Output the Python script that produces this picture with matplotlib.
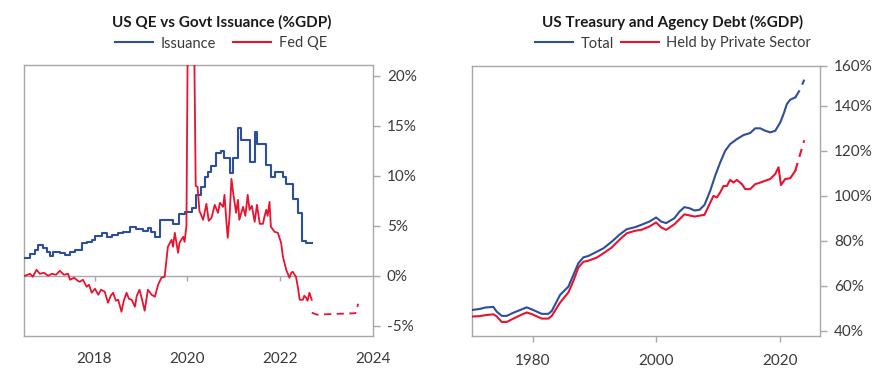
import matplotlib
matplotlib.use("Agg")
import matplotlib.pyplot as plt
from matplotlib.lines import Line2D

plt.rcParams['font.family'] = ['Lato', 'DejaVu Sans']

# ---------------- Left chart data ----------------
iss_x = [2016.50, 2016.61, 2016.72, 2016.78, 2016.89, 2016.97, 2017.04, 2017.10, 2017.25, 2017.36,
         2017.47, 2017.58, 2017.72, 2017.83, 2017.94, 2018.01, 2018.15, 2018.26, 2018.37, 2018.50,
         2018.61, 2018.76, 2018.90, 2019.04, 2019.15, 2019.22, 2019.30, 2019.40, 2019.68, 2019.83,
         2019.94, 2020.09, 2020.19, 2020.30, 2020.37, 2020.44, 2020.52, 2020.62, 2020.73, 2020.80,
         2020.91, 2020.98, 2021.09, 2021.16, 2021.34, 2021.45, 2021.51, 2021.70, 2021.81, 2021.88,
         2022.06, 2022.13, 2022.27, 2022.38, 2022.47, 2022.56, 2022.68]
iss_y = [1.8, 2.2, 2.6, 3.1, 2.8, 2.4, 2.0, 2.4, 2.3, 2.1,
         2.4, 2.6, 3.3, 3.4, 3.6, 4.0, 4.3, 3.9, 4.1, 4.3,
         4.4, 4.9, 4.7, 4.5, 4.8, 4.4, 3.9, 5.6, 5.2, 6.2,
         6.4, 6.8, 8.1, 8.9, 9.9, 10.4, 11.0, 12.3, 12.5, 11.8,
         10.3, 11.8, 14.8, 13.6, 11.4, 14.4, 13.2, 11.1, 9.9, 10.4,
         9.9, 9.2, 7.7, 6.3, 3.5, 3.3, 3.3]

qe_x = [2016.50, 2016.61, 2016.67, 2016.75, 2016.82, 2016.91, 2017.00, 2017.08, 2017.17, 2017.25,
        2017.34, 2017.43, 2017.47, 2017.56, 2017.64, 2017.68, 2017.75, 2017.83, 2017.88, 2017.94,
        2018.01, 2018.08, 2018.14, 2018.22, 2018.29, 2018.35, 2018.40, 2018.46, 2018.51, 2018.58,
        2018.63, 2018.69, 2018.74, 2018.80, 2018.87, 2018.91, 2018.97, 2019.03, 2019.08, 2019.15,
        2019.23, 2019.30, 2019.37, 2019.44, 2019.51, 2019.55, 2019.58, 2019.66, 2019.69, 2019.73,
        2019.80, 2019.83, 2019.91, 2019.94, 2019.98, 2020.01, 2020.05, 2020.10, 2020.15, 2020.18,
        2020.22, 2020.26, 2020.34, 2020.41, 2020.46, 2020.52, 2020.59, 2020.66, 2020.70, 2020.77,
        2020.80, 2020.84, 2020.87, 2020.91, 2020.95, 2020.99, 2021.05, 2021.09, 2021.12, 2021.20,
        2021.25, 2021.30, 2021.34, 2021.39, 2021.45, 2021.50, 2021.56, 2021.63, 2021.66, 2021.70,
        2021.73, 2021.77, 2021.80, 2021.88, 2021.95, 2022.02, 2022.06, 2022.13, 2022.20, 2022.24,
        2022.27, 2022.34, 2022.38, 2022.42, 2022.49, 2022.52, 2022.56, 2022.59, 2022.63, 2022.68]
qe_y = [0.0, 0.2, -0.1, 0.6, 0.2, 0.3, 0.0, 0.2, 0.1, 0.5,
        0.1, 0.2, -0.4, -0.2, -0.5, -0.6, -0.4, -1.1, -0.9, -1.7,
        -1.3, -1.9, -1.4, -1.6, -2.7, -2.0, -1.7, -2.5, -2.4, -3.6,
        -2.5, -1.7, -2.3, -2.4, -3.1, -2.0, -1.4, -2.5, -3.5, -1.4,
        -1.9, -2.1, -0.9, -0.2, -0.1, 1.6, 2.9, 3.6, 2.9, 4.3,
        2.3, 3.3, 3.9, 3.4, 5.0, 25.0, 45.0, 40.0, 22.0, 9.0,
        8.9, 6.5, 5.6, 7.2, 5.5, 5.8, 7.1, 6.3, 7.3, 6.9,
        8.1, 5.5, 3.8, 6.0, 9.7, 8.2, 6.3, 7.6, 5.6, 6.9,
        6.0, 8.1, 6.6, 7.0, 5.4, 7.1, 5.2, 5.2, 5.9, 6.6,
        6.0, 7.4, 4.9, 4.4, 4.3, 3.3, 1.9, 0.6, -0.2, 0.3,
        0.4, -0.1, -1.1, -2.4, -2.4, -2.0, -2.2, -2.5, -1.7, -2.4]

qe_fc_x = [2022.68, 2022.80, 2023.00, 2023.30, 2023.62, 2023.66, 2023.68]
qe_fc_y = [-3.7, -3.9, -3.85, -3.8, -3.75, -3.2, -2.8]

# ---------------- Right chart data ----------------
tot_x = [1970.1, 1971.45, 1972.26, 1973.6, 1974.15, 1974.97, 1975.78, 1976.85, 1978.21, 1979.02,
         1979.83, 1981.45, 1982.52, 1983.08, 1984.42, 1985.77, 1986.58, 1987.39, 1988.2, 1989.01,
         1990.38, 1991.45, 1992.81, 1994.16, 1995.24, 1996.59, 1997.56, 1998.91, 1999.99, 2000.8,
         2001.62, 2002.96, 2003.77, 2004.58, 2005.4, 2006.21, 2007.02, 2007.83, 2008.75, 2009.56,
         2010.37, 2011.18, 2011.99, 2013.08, 2014.16, 2015.24, 2016.05, 2016.86, 2017.67, 2018.49,
         2019.3, 2020.11, 2020.64, 2021.19, 2021.73, 2022.54]
tot_y = [49.3, 49.8, 50.4, 50.7, 48.6, 46.7, 46.7, 48.1, 49.6, 50.5,
         49.6, 47.6, 47.6, 48.9, 56.0, 59.7, 64.9, 70.1, 72.7, 73.3,
         75.2, 76.7, 79.7, 83.0, 85.2, 86.1, 87.1, 88.6, 90.4, 88.6,
         87.9, 90.1, 93.0, 95.0, 94.5, 93.5, 93.8, 96.0, 102.2, 108.9,
         114.8, 120.0, 123.0, 125.2, 127.0, 127.9, 130.0, 130.0, 128.9, 128.2,
         128.9, 132.6, 136.3, 140.8, 142.7, 143.7]
tot_fc_x = [2022.54, 2023.35, 2024.0]
tot_fc_y = [143.7, 147.3, 151.6]

priv_x = [1970.1, 1971.45, 1972.26, 1973.6, 1974.15, 1974.97, 1975.78, 1976.85, 1978.21, 1979.02,
          1979.83, 1981.45, 1982.52, 1983.08, 1984.42, 1985.77, 1986.58, 1987.39, 1988.2, 1989.01,
          1990.38, 1991.45, 1992.81, 1994.16, 1995.24, 1996.59, 1997.56, 1998.91, 1999.99, 2000.8,
          2001.62, 2002.96, 2004.58, 2006.21, 2007.83, 2008.64, 2009.29, 2009.84, 2010.37, 2010.91,
          2011.46, 2011.99, 2012.53, 2013.08, 2013.9, 2014.43, 2015.24, 2016.05, 2016.86, 2017.67,
          2018.49, 2019.3, 2019.83, 2020.22, 2020.92, 2021.73, 2022.54]
priv_y = [46.4, 46.6, 47.0, 47.4, 46.5, 44.0, 44.0, 45.5, 47.3, 48.2,
          47.5, 45.5, 45.5, 46.7, 52.6, 57.1, 62.2, 68.2, 70.7, 71.2,
          72.6, 74.5, 77.1, 80.8, 83.4, 84.5, 84.9, 86.4, 88.2, 86.0,
          84.9, 87.4, 91.8, 90.8, 91.6, 96.3, 100.0, 99.3, 101.5, 104.4,
          104.4, 107.1, 105.9, 107.1, 105.2, 103.0, 103.0, 105.2, 105.9, 106.7,
          107.5, 109.7, 112.7, 104.8, 107.5, 107.8, 111.1]
priv_fc_x = [2022.54, 2024.0]
priv_fc_y = [111.1, 124.7]

left_xticks = [2018, 2020, 2022, 2024]
left_yticks = [-5, 0, 5, 10, 15, 20]
right_xticks = [1980, 2000, 2020]
right_yticks = [40, 60, 80, 100, 120, 140, 157.8]
right_ylabels = ['40%', '60%', '80%', '100%', '120%', '140%', '160%']

BLUE = '#2C4F9C'
RED = '#E8132F'
GRAY = '#A8A8A8'
TXT = '#3A3A3A'
W, H = 882, 380

fig = plt.figure(figsize=(8.82, 3.8), dpi=100)

def style(ax):
    for s in ax.spines.values():
        s.set_color(GRAY)
        s.set_linewidth(1.0)
    ax.yaxis.tick_right()
    ax.tick_params(axis='y', which='both', direction='out', length=5, width=1,
                   color=GRAY, labelcolor=TXT, labelsize=11, pad=5, left=False, right=True)
    ax.tick_params(axis='x', color=GRAY, labelcolor=TXT, labelsize=11)

# Left axes
axL = fig.add_axes([24 / W, 1 - 335.7 / H, (373 - 24) / W, (335.7 - 65) / H])
style(axL)
axL.axhline(0, color=GRAY, lw=1.0, zorder=1)
axL.vlines(left_xticks[:-1], -0.5, 0, color=GRAY, lw=1.0, zorder=1)
axL.plot(iss_x, iss_y, color=BLUE, lw=1.5, drawstyle='steps-post', zorder=3)
axL.plot(qe_x, qe_y, color=RED, lw=1.3, zorder=3)
axL.plot(qe_fc_x, qe_fc_y, color=RED, lw=1.3, ls=(0, (4, 3)), zorder=3)
axL.set_xlim(2016.48, 2024.0)
axL.set_ylim(-6.0, 21.1)
axL.set_xticks(left_xticks)
axL.set_xticklabels([str(t) for t in left_xticks])
axL.tick_params(axis='x', length=0, pad=12)
axL.set_yticks(left_yticks)
axL.set_yticklabels([f'{t}%' for t in left_yticks])

# Right axes
axR = fig.add_axes([471.7 / W, 1 - 335.7 / H, (820.3 - 471.7) / W, (335.7 - 65.7) / H])
style(axR)
axR.plot(tot_x, tot_y, color=BLUE, lw=1.5, zorder=3)
axR.plot(tot_fc_x, tot_fc_y, color=BLUE, lw=1.5, ls=(0, (4, 3)), zorder=3)
axR.plot(priv_x, priv_y, color=RED, lw=1.5, zorder=3)
axR.plot(priv_fc_x, priv_fc_y, color=RED, lw=1.5, ls=(0, (4, 3)), zorder=3)
axR.set_xlim(1970.1, 2026.6)
axR.set_ylim(37.9, 157.8)
axR.set_xticks(right_xticks)
axR.set_xticklabels([str(t) for t in right_xticks])
axR.tick_params(axis='x', direction='out', length=4, width=1, pad=9)
axR.set_yticks(right_yticks)
axR.set_yticklabels(right_ylabels)

# Titles
fig.text(222 / W, 1 - 22.5 / H, 'US QE vs Govt Issuance (%GDP)', ha='center', va='center',
         fontsize=11, fontweight='bold', color='#1A1A1A')
fig.text(673 / W, 1 - 22.5 / H, 'US Treasury and Agency Debt (%GDP)', ha='center', va='center',
         fontsize=11, fontweight='bold', color='#1A1A1A')

# Legends
hL = [Line2D([], [], color=BLUE, lw=1.5), Line2D([], [], color=RED, lw=1.5)]
fig.legend(hL, ['Issuance', 'Fed QE'], loc='center', bbox_to_anchor=(221 / W, 1 - 43.5 / H),
           ncol=2, frameon=False, fontsize=10.5, handlelength=2.6, handletextpad=0.5,
           columnspacing=1.2, labelcolor=TXT, borderpad=0, borderaxespad=0)
hR = [Line2D([], [], color=BLUE, lw=1.5), Line2D([], [], color=RED, lw=1.5)]
fig.legend(hR, ['Total', 'Held by Private Sector'], loc='center', bbox_to_anchor=(673 / W, 1 - 43.5 / H),
           ncol=2, frameon=False, fontsize=10.5, handlelength=2.6, handletextpad=0.5,
           columnspacing=0.5, labelcolor=TXT, borderpad=0, borderaxespad=0)

fig.savefig('out.png', dpi=100)
